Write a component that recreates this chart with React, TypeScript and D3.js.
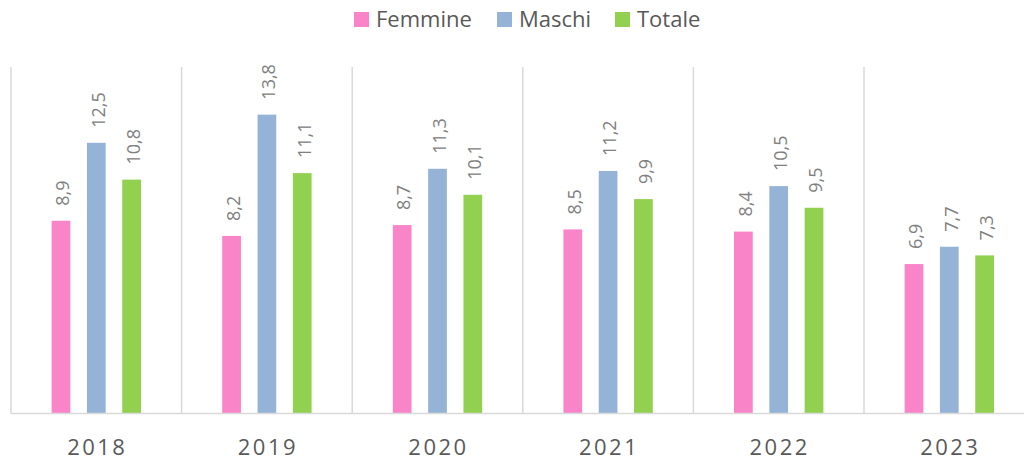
import { useRef, useEffect } from "react";
import * as d3 from "d3";

const years = ["2018", "2019", "2020", "2021", "2022", "2023"];
const seriesNames = ["Femmine", "Maschi", "Totale"];
const femmine = [8.9, 8.2, 8.7, 8.5, 8.4, 6.9];
const maschi = [12.5, 13.8, 11.3, 11.2, 10.5, 7.7];
const totale = [10.8, 11.1, 10.1, 9.9, 9.5, 7.3];
const colors = ["#F984C8", "#95B3D7", "#92D050"];

const W = 1024;
const H = 459;
const FONT = "'Open Sans', sans-serif";

const App = () => {
  const ref = useRef<SVGSVGElement>(null);

  useEffect(() => {
    if (!ref.current) return;
    const svg = d3.select(ref.current);
    svg.selectAll("*").remove();

    const values = [femmine, maschi, totale];
    const rows = years.map((y, i) => ({
      year: y,
      vals: seriesNames.map((s, j) => ({ key: s, v: values[j][i], c: colors[j] })),
    }));

    // plot is cut off on the right in the original
    const left = 11;
    const bandW = 170.6;
    const x0 = d3
      .scaleBand()
      .domain(years)
      .range([left, left + bandW * years.length])
      .paddingInner(0)
      .paddingOuter(0);
    const x1 = d3
      .scaleBand()
      .domain(seriesNames)
      .range([0, x0.bandwidth()])
      .paddingInner(0.47)
      .paddingOuter(1.15);
    const y = d3.scaleLinear().domain([0, 16]).range([413.5, 67]);

    // vertical gridlines at category edges
    svg
      .append("g")
      .selectAll("line")
      .data(years)
      .join("line")
      .attr("x1", (d) => x0(d)!)
      .attr("x2", (d) => x0(d)!)
      .attr("y1", y(16))
      .attr("y2", y(0))
      .attr("stroke", "#D9D9D9")
      .attr("stroke-width", 1.5);

    const groups = svg
      .append("g")
      .selectAll("g")
      .data(rows)
      .join("g")
      .attr("transform", (d) => `translate(${x0(d.year)},0)`);

    groups
      .selectAll("rect")
      .data((d) => d.vals)
      .join("rect")
      .attr("x", (d) => x1(d.key)!)
      .attr("y", (d) => y(d.v))
      .attr("width", x1.bandwidth())
      .attr("height", (d) => y(0) - y(d.v))
      .attr("fill", (d) => d.c);

    groups
      .selectAll("text")
      .data((d) => d.vals)
      .join("text")
      .attr(
        "transform",
        (d) => `translate(${x1(d.key)! + x1.bandwidth() / 2 + 2},${y(d.v) - 15}) rotate(-90)`
      )
      .attr("dy", "0.35em")
      .attr("text-anchor", "start")
      .attr("font-family", FONT)
      .attr("font-size", 18)
      .attr("fill", "#808080")
      .text((d) => d.v.toFixed(1).replace(".", ","));

    // baseline
    svg
      .append("line")
      .attr("x1", left)
      .attr("x2", W)
      .attr("y1", y(0))
      .attr("y2", y(0))
      .attr("stroke", "#D9D9D9")
      .attr("stroke-width", 1.5);

    // category labels
    svg
      .append("g")
      .selectAll("text")
      .data(years)
      .join("text")
      .attr("x", (d) => x0(d)! + x0.bandwidth() / 2 + 1)
      .attr("y", 455)
      .attr("text-anchor", "middle")
      .attr("font-family", FONT)
      .attr("font-size", 22)
      .attr("letter-spacing", 2.5)
      .attr("fill", "#595959")
      .text((d) => d);

    // legend
    const legendX = [354, 497, 615];
    const leg = svg
      .append("g")
      .selectAll("g")
      .data(seriesNames)
      .join("g")
      .attr("transform", (_, i) => `translate(${legendX[i]},12)`);
    leg
      .append("rect")
      .attr("width", 15)
      .attr("height", 15)
      .attr("fill", (_, i) => colors[i]);
    leg
      .append("text")
      .attr("x", 22)
      .attr("y", 15)
      .attr("font-family", FONT)
      .attr("font-size", 22)
      .attr("fill", "#595959")
      .text((d) => d);
  }, []);

  return (
    <svg
      ref={ref}
      width={W}
      height={H}
      style={{ position: "fixed", left: 0, top: 0, background: "#fff" }}
    />
  );
};

export default App;
